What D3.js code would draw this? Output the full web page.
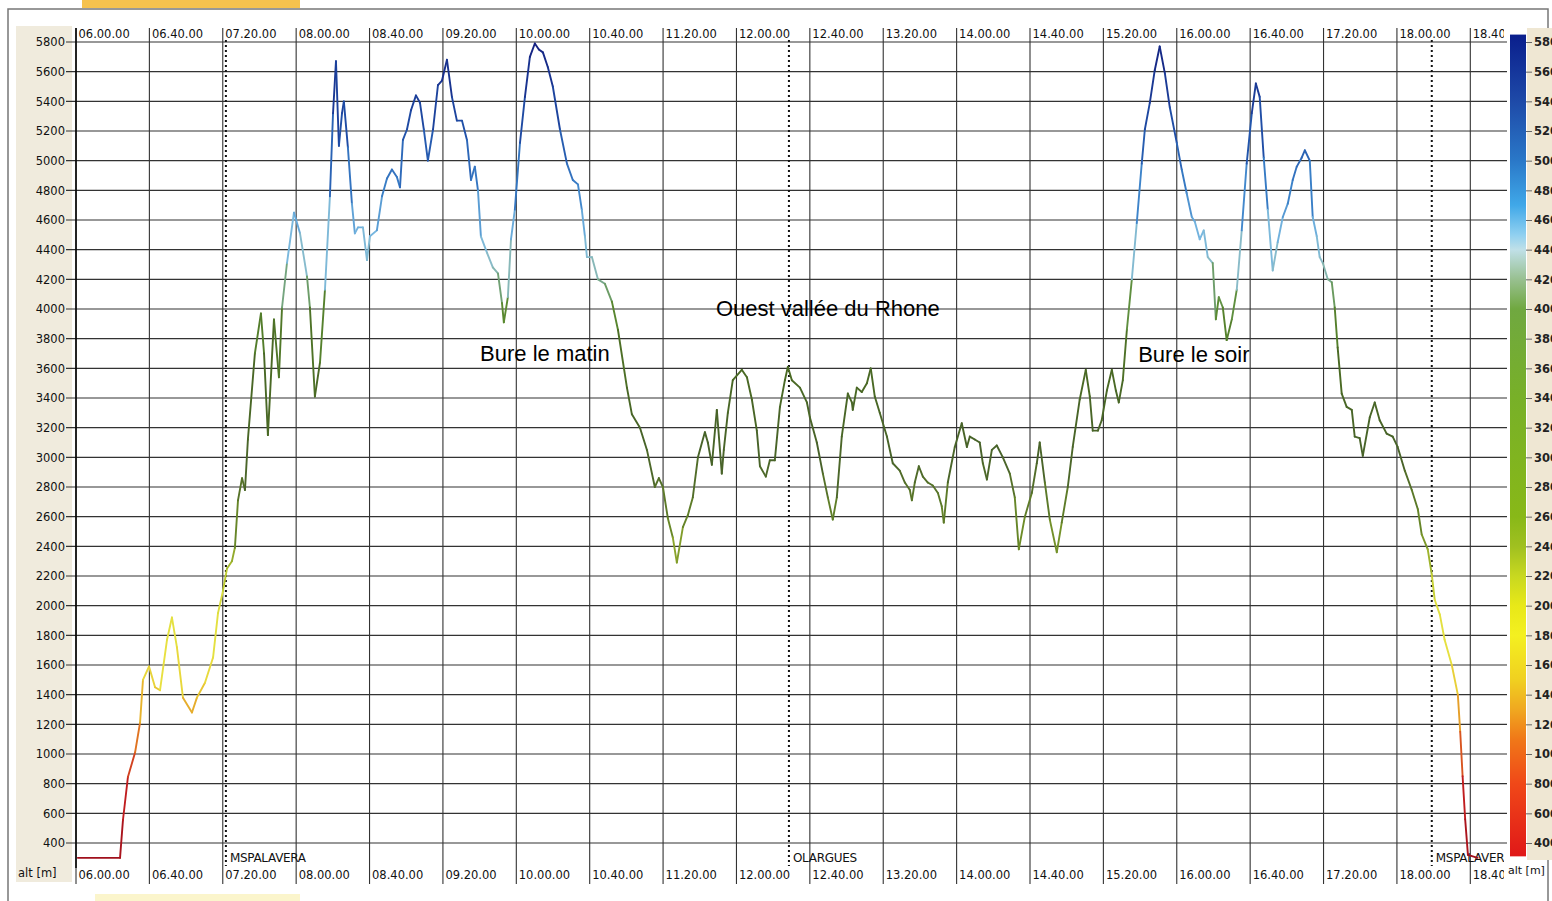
<!DOCTYPE html>
<html>
<head>
<meta charset="utf-8">
<script src="https://cdn.jsdelivr.net/npm/d3@7"></script>
<style>
  body { margin: 0; background: #fff; }
  svg { display: block; }
  text { font-family: "DejaVu Sans", sans-serif; fill: #111; }
</style>
</head>
<body>
<script>
// flight trace: minutes after 06:00 and altitude in metres
const minutes = [
  1, 24, 25.6, 28.3, 32.2, 34.9, 36.5, 39.8, 43.1, 45.8, 49.6, 52.3, 55, 58.3, 63.2, 65.9, 70.3, 74.7, 77.4, 80.1,
  82.3, 85, 86.6, 88.3, 90.5, 92.1, 93.7, 97.5, 100.8, 102.5, 104.6, 107.9, 110.6, 112.3, 115, 118.8, 122.1, 125.9, 127.5, 130.2,
  133, 135.7, 138.4, 140.1, 141.7, 143.3, 145, 146, 148.2, 150.4, 152, 153.7, 156.4, 158.6, 160.2, 164, 166.8, 169.5, 172.2, 174.9,
  176.6, 178.2, 180.4, 182.6, 185.3, 187.5, 189.6, 191.8, 194.6, 197.3, 199.5, 202.2, 204.9, 207.6, 210.4, 213.1, 215.3, 217.4, 219.1, 220.7,
  224, 227.2, 230, 232.2, 233.2, 235.4, 237.1, 239.2, 242, 244.7, 247.4, 250.1, 252.3, 254.5, 257.2, 259.9, 263.8, 267.6, 270.8, 273.6,
  275.7, 277.4, 278.5, 281.2, 284.5, 288.3, 292.1, 295.4, 300.3, 303, 307.4, 311.2, 315.5, 317.7, 319.9, 322.6, 325.3, 327.5, 330.8, 333.5,
  336.2, 339, 342.8, 344.4, 346.6, 349.3, 352, 353.1, 355.3, 358, 362.9, 365.7, 368.4, 371.1, 372.8, 376, 378.2, 380.9, 383.7, 386.4,
  388, 390.2, 394.6, 398.4, 400, 403.8, 407.1, 409.8, 412.5, 414.7, 417.4, 420.7, 422.9, 423.4, 425.6, 428.3, 431.1, 433.2, 435.4, 438.1,
  442, 445.2, 449, 451.8, 454.5, 455.6, 457.2, 459.4, 461.6, 464.3, 467, 469.8, 471.9, 473, 475.2, 479, 482.8, 485.6, 487.2, 489.9,
  492.6, 494.3, 496.5, 499.2, 501.9, 505.2, 509, 511.7, 513.9, 517.2, 521, 523.7, 525.3, 528.1, 530.8, 534.6, 537.3, 540.6, 543.3, 547.1,
  550.4, 552.6, 554.2, 557, 559.1, 561.9, 564.6, 566.8, 568.4, 570.6, 572.8, 575.5, 578.2, 580.9, 582.6, 585.3, 588, 590.7, 593.5, 596.2,
  600, 602.7, 605.4, 608.2, 609.8, 612.5, 614.7, 616.9, 619.6, 621.3, 622.9, 625.1, 627.2, 630, 632.7, 635.4, 638.1, 640.9, 643.1, 645.2,
  647.4, 649.6, 652.3, 655, 657.8, 660.5, 663.2, 665.4, 668.1, 669.8, 672.5, 674.1, 676.3, 677.9, 679.6, 682.3, 684.5, 686.1, 687.7, 689.9,
  692.6, 695.4, 697, 699.7, 701.4, 705.2, 707.9, 710.6, 714.4, 717.7, 720.4, 724.3, 728.1, 731.4, 733.5, 736.8, 739, 740.6, 743.4, 746,
  749.9, 753.2, 754.5, 755.8, 757.2, 758.7, 764
];
const altitudes = [
  300, 300, 555, 845, 1010, 1210, 1500, 1590, 1450, 1430, 1770, 1920, 1720, 1380, 1280, 1380, 1480, 1650, 1950, 2100,
  2250, 2300, 2390, 2710, 2860, 2780, 3120, 3700, 3970, 3700, 3150, 3930, 3540, 4010, 4310, 4650, 4510, 4220, 4010, 3410,
  3640, 4130, 4760, 5320, 5670, 5100, 5320, 5400, 5090, 4710, 4510, 4550, 4550, 4330, 4490, 4530, 4760, 4880, 4940, 4890,
  4820, 5140, 5210, 5340, 5440, 5390, 5210, 5000, 5210, 5510, 5540, 5680, 5430, 5270, 5270, 5140, 4870, 4960, 4800, 4490,
  4380, 4280, 4240, 4040, 3910, 4080, 4470, 4670, 5120, 5430, 5700, 5790, 5750, 5730, 5630, 5500, 5210, 4980, 4870, 4840,
  4670, 4490, 4350, 4350, 4200, 4170, 4050, 3860, 3470, 3290, 3200, 3050, 2800, 2860, 2800, 2590, 2460, 2290, 2530, 2610,
  2730, 3000, 3170, 3100, 2950, 3320, 2890, 3050, 3300, 3520, 3590, 3540, 3390, 3180, 2940, 2870, 2980, 2980, 3340, 3520,
  3610, 3520, 3470, 3370, 3270, 3100, 2890, 2730, 2580, 2730, 3140, 3430, 3370, 3320, 3470, 3440, 3500, 3600, 3410, 3300,
  3140, 2960, 2910, 2830, 2780, 2710, 2830, 2940, 2870, 2830, 2810, 2760, 2670, 2560, 2830, 3070, 3230, 3070, 3140, 3120,
  3100, 2960, 2850, 3050, 3080, 3000, 2890, 2730, 2380, 2600, 2760, 2960, 3100, 2830, 2580, 2360, 2560, 2800, 3070, 3390,
  3590, 3410, 3180, 3180, 3250, 3450, 3590, 3450, 3370, 3520, 3860, 4200, 4580, 4980, 5210, 5390, 5610, 5770, 5590, 5360,
  5120, 4940, 4780, 4620, 4590, 4470, 4530, 4350, 4310, 3930, 4080, 4010, 3790, 3930, 4130, 4530, 4980, 5320, 5520, 5430,
  5020, 4670, 4260, 4450, 4620, 4710, 4870, 4960, 5020, 5070, 5000, 4620, 4490, 4350, 4310, 4200, 4180, 4010, 3740, 3430,
  3340, 3320, 3140, 3130, 3010, 3270, 3370, 3250, 3160, 3140, 3070, 2910, 2780, 2650, 2480, 2380, 2210, 2040, 1940, 1770,
  1600, 1400, 1150, 850, 560, 320, 300
];

// axis ticks
const timeTickMinutes = [0, 40, 80, 120, 160, 200, 240, 280, 320, 360, 400, 440, 480, 520, 560, 600, 640, 680, 720, 760];
const timeTickLabels = ["06.00.00", "06.40.00", "07.20.00", "08.00.00", "08.40.00", "09.20.00", "10.00.00", "10.40.00",
  "11.20.00", "12.00.00", "12.40.00", "13.20.00", "14.00.00", "14.40.00", "15.20.00", "16.00.00", "16.40.00", "17.20.00",
  "18.00.00", "18.40.00"];
const altTicks = [400, 600, 800, 1000, 1200, 1400, 1600, 1800, 2000, 2200, 2400, 2600, 2800, 3000, 3200, 3400, 3600,
  3800, 4000, 4200, 4400, 4600, 4800, 5000, 5200, 5400, 5600, 5800];

// waypoints
const waypointMinutes = [81.7, 388.6, 739];
const waypointNames = ["MSPALAVERA", "OLARGUES", "MSPALAVERA"];

// notes written on the chart
const noteTexts = ["Bure le matin", "Ouest vallée du Rhone", "Bure le soir"];
const noteMinutes = [255.6, 409.8, 609.3];
const noteAlts = [3650, 3955, 3640];

// colour bar stops (altitude -> colour)
const barAlts = [300, 800, 1100, 1300, 1500, 1800, 2000, 2200, 2400, 2600, 3400, 4000, 4200, 4400, 4500, 4700, 5000, 5400, 5850];
const barColors = ["#e01818", "#f04818", "#f07818", "#f0a820", "#f0d020", "#f4f020", "#e8e818", "#c8d820", "#a0c020",
  "#88b818", "#78b028", "#70a840", "#98c090", "#c0e0e8", "#90d0f0", "#40a8e8", "#2a78c8", "#1e4aa8", "#0a1e8c"];

// trace colour (darker than the bar in the middle)
const lineAlts = [300, 800, 1100, 1400, 1600, 2000, 2200, 2500, 3000, 3600, 4000, 4300, 4500, 4800, 5200, 5800];
const lineColors = ["#a0101c", "#c82020", "#e07020", "#e8c030", "#e8e040", "#e0e040", "#b8c830", "#6a8a28", "#48622a",
  "#4a6a24", "#5a8a30", "#8cbcc4", "#78b8e0", "#3a80c8", "#2050a8", "#142080"];

const W = 1552, H = 901;
const plotLeft = 76, plotRight = 1504, plotTop = 28, plotBottom = 884;
const base = new Date(2000, 0, 1, 6, 0, 0);
const toDate = (m) => new Date(base.getTime() + m * 60000);

const x = d3.scaleTime().domain([toDate(0), toDate(780)]).range([76, 1507]);
const y = d3.scaleLinear().domain([400, 5800]).range([843, 42]);
const barColor = d3.scaleLinear().domain(barAlts).range(barColors);
const lineColor = d3.scaleLinear().domain(lineAlts).range(lineColors);

const svg = d3.select("body").append("svg").attr("width", W).attr("height", H);
svg.append("rect").attr("width", W).attr("height", H).attr("fill", "#fff");

// bits of the scanned page
svg.append("rect").attr("x", 82).attr("y", 0).attr("width", 218).attr("height", 8).attr("fill", "#f6c24e");
svg.append("rect").attr("x", 95).attr("y", 894).attr("width", 205).attr("height", 7).attr("fill", "#fbf5cc");
svg.append("path")
  .attr("d", `M8,${H} L8,9 L1548,9 L1548,${H}`)
  .attr("fill", "none").attr("stroke", "#777").attr("stroke-width", 1.5);

// beige label strips
svg.append("rect").attr("x", 16).attr("y", 26).attr("width", 56).attr("height", 856).attr("fill", "#f0ebdd");
svg.append("rect").attr("x", 1527).attr("y", 28).attr("width", 25).attr("height", 832).attr("fill", "#efe7d3");

const defs = svg.append("defs");
defs.append("clipPath").attr("id", "plot-clip")
  .append("rect").attr("x", plotLeft).attr("y", plotTop).attr("width", plotRight - plotLeft).attr("height", plotBottom - plotTop);

// horizontal grid (with the little tick to the left)
svg.append("g")
  .selectAll("line")
  .data(altTicks)
  .join("line")
  .attr("x1", plotLeft - 10).attr("x2", 1507)
  .attr("y1", (d) => y(d)).attr("y2", (d) => y(d))
  .attr("stroke", "#333").attr("stroke-width", 1.1);

// vertical grid
const tickDates = timeTickMinutes.map(toDate);
svg.append("g")
  .selectAll("line")
  .data(tickDates)
  .join("line")
  .attr("x1", (d) => x(d)).attr("x2", (d) => x(d))
  .attr("y1", plotTop).attr("y2", plotBottom)
  .attr("stroke", "#333").attr("stroke-width", 1.1);

svg.append("line").attr("x1", plotLeft).attr("x2", plotLeft).attr("y1", plotTop).attr("y2", 868)
  .attr("stroke", "#000").attr("stroke-width", 1.5);

// time labels, top and bottom, sitting right of their line
const plot = svg.append("g").attr("clip-path", "url(#plot-clip)");
[38, 879].forEach((yy) => {
  const ax = plot.append("g").attr("transform", `translate(0,${yy})`)
    .call(d3.axisBottom(x).tickValues(tickDates).tickSize(0).tickFormat((d, i) => timeTickLabels[i]));
  ax.select(".domain").remove();
  ax.selectAll("text")
    .attr("text-anchor", "start").attr("x", 2).attr("y", 0).attr("dy", 0)
    .style("font-family", "DejaVu Sans").style("font-size", "11.5px").style("fill", "#111");
});

// altitude labels
const yAx = svg.append("g").attr("transform", `translate(${plotLeft - 10},0)`)
  .call(d3.axisLeft(y).tickValues(altTicks).tickSize(0).tickPadding(1).tickFormat(d3.format("d")));
yAx.select(".domain").remove();
yAx.selectAll("text").style("font-family", "DejaVu Sans").style("font-size", "11.5px").style("fill", "#111");

svg.append("text").attr("x", 18).attr("y", 877).style("font-size", "11.5px").text("alt [m]");

// waypoint dotted lines
waypointMinutes.forEach((m, i) => {
  const xx = x(toDate(m));
  plot.append("line").attr("x1", xx).attr("x2", xx).attr("y1", 40).attr("y2", 866)
    .attr("stroke", "#111").attr("stroke-width", 2).attr("stroke-dasharray", "2,3");
  plot.append("text").attr("x", xx + 4).attr("y", 862)
    .style("font-size", "12px").style("letter-spacing", "-0.3px").text(waypointNames[i]);
});

// the trace, coloured by altitude
const pts = minutes.map((m, i) => [x(toDate(m)), y(altitudes[i]), altitudes[i]]);
plot.append("g")
  .selectAll("line")
  .data(d3.pairs(pts))
  .join("line")
  .attr("x1", (d) => d[0][0]).attr("y1", (d) => d[0][1])
  .attr("x2", (d) => d[1][0]).attr("y2", (d) => d[1][1])
  .attr("stroke", (d) => lineColor((d[0][2] + d[1][2]) / 2))
  .attr("stroke-width", 1.9)
  .attr("stroke-linecap", "round");

// notes
noteTexts.forEach((t, i) => {
  svg.append("text")
    .attr("x", x(toDate(noteMinutes[i]))).attr("y", y(noteAlts[i]))
    .attr("text-anchor", "middle")
    .style("font-family", "Liberation Sans, Arial, sans-serif").style("font-size", "22px").style("fill", "#000")
    .text(t);
});

// colour bar
const barTop = y(5850), barBottom = y(310);
const grad = defs.append("linearGradient").attr("id", "alt-grad")
  .attr("x1", 0).attr("y1", 0).attr("x2", 0).attr("y2", 1);
grad.selectAll("stop")
  .data(barAlts.slice().reverse())
  .join("stop")
  .attr("offset", (d) => (y(d) - barTop) / (barBottom - barTop))
  .attr("stop-color", (d) => barColor(d));
svg.append("rect").attr("x", 1510).attr("y", barTop).attr("width", 16).attr("height", barBottom - barTop)
  .attr("fill", "url(#alt-grad)");

const cAx = svg.append("g").attr("transform", "translate(1526,0)")
  .call(d3.axisRight(y).tickValues(altTicks).tickSize(6).tickPadding(2).tickFormat(d3.format("d")));
cAx.select(".domain").remove();
cAx.selectAll("line").attr("stroke", "#666");
cAx.selectAll("text").style("font-family", "DejaVu Sans").style("font-size", "11.5px").style("font-weight", "bold")
  .style("fill", "#222");

svg.append("text").attr("x", 1508).attr("y", 874).style("font-size", "11px").text("alt [m]");
</script>
</body>
</html>
